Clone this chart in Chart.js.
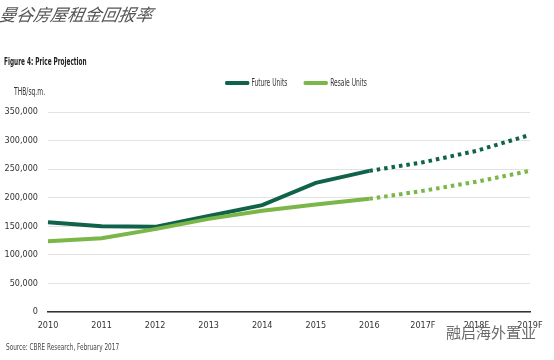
<!DOCTYPE html>
<html>
<head>
<meta charset="utf-8">
<script src="https://cdn.jsdelivr.net/npm/chart.js@4"></script>
<style>
  html, body { margin: 0; padding: 0; background: #fff; }
  #wrap { position: relative; width: 554px; height: 360px; overflow: hidden; }
  #chart { position: absolute; left: 0; top: 0; }
  .txt { position: absolute; white-space: nowrap; font-family: "Liberation Sans Narrow", "DejaVu Sans Condensed", sans-serif; transform-origin: left top; }
  #title { left: 2px; top: 1px; font-family: "Noto Sans CJK SC", sans-serif; font-style: italic; font-size: 17px; color: #555; transform: skewX(-10deg); }
  #fig { left: 4px; top: 56px; font-size: 10px; font-weight: bold; color: #222; transform: scaleX(0.64); }
  #unit { left: 14px; top: 86px; font-size: 10px; color: #333; transform: scaleX(0.67); }
  #legend { left: 225px; top: 77px; font-size: 10px; color: #333; transform: scaleX(0.66); }
  #legend span.sw { display: inline-block; width: 37px; height: 4px; border-radius: 2px; vertical-align: middle; margin-right: 3px; }
  #source { left: 6px; top: 343px; font-size: 8px; color: #444; font-family: "DejaVu Sans", sans-serif; transform: scaleX(0.72); }
  #mark { left: 446px; top: 321px; font-family: "Noto Sans CJK SC", sans-serif; font-size: 15px; color: #6a6a6a; }
</style>
</head>
<body>
<div id="wrap">
  <canvas id="chart" width="554" height="360"></canvas>
  <div class="txt" id="title">曼谷房屋租金回报率</div>
  <div class="txt" id="fig">Figure 4: Price Projection</div>
  <div class="txt" id="unit">THB/sq.m.</div>
  <div class="txt" id="legend"><span class="sw" style="background:#10634a"></span>Future Units<span style="display:inline-block;width:25px"></span><span class="sw" style="background:#7ab648"></span>Resale Units</div>
  <div class="txt" id="source">Source: CBRE Research, February 2017</div>
  <div class="txt" id="mark">融启海外置业</div>
</div>
<script>
const years = ["2010", "2011", "2012", "2013", "2014", "2015", "2016", "2017F", "2018F", "2019F"];
const futureUnits = [157000, 150000, 149000, 168000, 187000, 226000, 247000, 262000, 282000, 310000];
const resaleUnits = [124000, 129000, 145000, 163000, 177000, 188000, 198000, 212000, 228000, 247000];
const yTicks = [0, 50000, 100000, 150000, 200000, 250000, 300000, 350000];
const forecastFrom = 6; // segments after 2016 are projections

const dashAfter = (ctx) => ctx.p0DataIndex >= forecastFrom ? [3.5, 4] : undefined;

function lineSet(label, data, color) {
  return {
    label,
    data,
    borderColor: color,
    backgroundColor: color,
    borderWidth: 4,
    pointRadius: 0,
    tension: 0,
    fill: false,
    segment: { borderDash: dashAfter },
  };
}

new Chart(document.getElementById("chart"), {
  type: "line",
  data: {
    labels: years,
    datasets: [
      lineSet("Resale Units", resaleUnits, "#7ab648"),
      lineSet("Future Units", futureUnits, "#10634a"),
    ],
  },
  options: {
    responsive: false,
    animation: false,
    layout: { padding: { top: 112, right: 24, left: 0, bottom: 0 } },
    plugins: { legend: { display: false }, tooltip: { enabled: false } },
    scales: {
      x: {
        offset: false,
        grid: { display: false, drawTicks: false },
        border: { display: true, color: "#333", width: 1.5 },
        ticks: {
          color: "#333",
          padding: 8,
          maxRotation: 0,
          autoSkip: false,
          font: { family: "Liberation Sans Narrow, DejaVu Sans Condensed, sans-serif", size: 9 },
        },
        afterFit: (s) => { s.height = 48; },
      },
      y: {
        min: 0,
        max: 350000,
        afterBuildTicks: (s) => { s.ticks = yTicks.map((v) => ({ value: v })); },
        grid: { color: "#e2e2e2", lineWidth: 1, drawTicks: false },
        border: { display: false },
        ticks: {
          color: "#333",
          padding: 10,
          font: { family: "Liberation Sans Narrow, DejaVu Sans Condensed, sans-serif", size: 9 },
          callback: (v) => v.toLocaleString("en-US"),
        },
        afterFit: (s) => { s.width = 48; },
      },
    },
  },
});
</script>
</body>
</html>
